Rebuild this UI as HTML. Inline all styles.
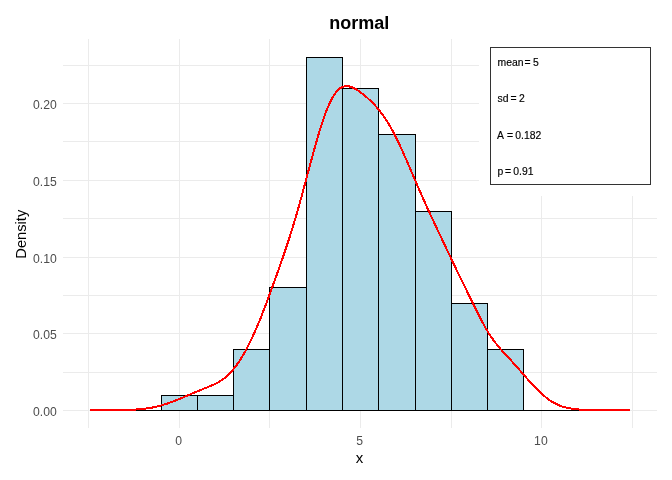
<!DOCTYPE html>
<html><head><meta charset="utf-8"><title>normal</title>
<style>
html,body{margin:0;padding:0;background:#fff;}
svg{display:block;font-family:"Liberation Sans",sans-serif;}
</style></head><body>
<svg width="672" height="480" viewBox="0 0 672 480">
<rect width="672" height="480" fill="#fff"/>
<g fill="#EBEBEB" shape-rendering="crispEdges"><rect x="88" y="39" width="1" height="389"/><rect x="179" y="39" width="1" height="389"/><rect x="269" y="39" width="1" height="389"/><rect x="360" y="39" width="1" height="389"/><rect x="451" y="39" width="1" height="389"/><rect x="541" y="39" width="1" height="389"/><rect x="632" y="39" width="1" height="389"/><rect x="63" y="410" width="594" height="1"/><rect x="63" y="372" width="594" height="1"/><rect x="63" y="333" width="594" height="1"/><rect x="63" y="295" width="594" height="1"/><rect x="63" y="257" width="594" height="1"/><rect x="63" y="218" width="594" height="1"/><rect x="63" y="180" width="594" height="1"/><rect x="63" y="141" width="594" height="1"/><rect x="63" y="103" width="594" height="1"/><rect x="63" y="65" width="594" height="1"/></g>
<g shape-rendering="crispEdges">
<rect x="125" y="410" width="472" height="1" fill="#000"/>
<rect x="161" y="395" width="37" height="16" fill="#000"/><rect x="162" y="396" width="35" height="14" fill="#ADD8E6"/>
<rect x="197" y="395" width="37" height="16" fill="#000"/><rect x="198" y="396" width="35" height="14" fill="#ADD8E6"/>
<rect x="233" y="349" width="37" height="62" fill="#000"/><rect x="234" y="350" width="35" height="60" fill="#ADD8E6"/>
<rect x="269" y="287" width="38" height="124" fill="#000"/><rect x="270" y="288" width="36" height="122" fill="#ADD8E6"/>
<rect x="306" y="57" width="37" height="354" fill="#000"/><rect x="307" y="58" width="35" height="352" fill="#ADD8E6"/>
<rect x="342" y="88" width="37" height="323" fill="#000"/><rect x="343" y="89" width="35" height="321" fill="#ADD8E6"/>
<rect x="378" y="134" width="38" height="277" fill="#000"/><rect x="379" y="135" width="36" height="275" fill="#ADD8E6"/>
<rect x="415" y="211" width="37" height="200" fill="#000"/><rect x="416" y="212" width="35" height="198" fill="#ADD8E6"/>
<rect x="451" y="303" width="37" height="108" fill="#000"/><rect x="452" y="304" width="35" height="106" fill="#ADD8E6"/>
<rect x="487" y="349" width="37" height="62" fill="#000"/><rect x="488" y="350" width="35" height="60" fill="#ADD8E6"/>
</g>
<polyline points="90.0,410.1 92.0,410.1 94.0,410.1 96.0,410.1 98.0,410.1 100.0,410.1 102.0,410.1 104.0,410.1 106.0,410.1 108.0,410.1 110.0,410.1 112.0,410.1 114.0,410.1 116.0,410.0 118.0,410.0 120.0,410.0 122.0,410.0 124.0,409.9 126.0,409.9 128.0,409.8 130.0,409.8 132.0,409.7 134.0,409.6 136.0,409.5 138.0,409.3 140.0,409.2 142.0,409.0 144.0,408.7 146.0,408.5 148.0,408.2 150.0,407.9 152.0,407.6 154.0,407.2 156.0,406.7 158.0,406.3 160.0,405.8 162.0,405.2 164.0,404.6 166.0,404.0 168.0,403.3 170.0,402.6 172.0,401.9 174.0,401.1 176.0,400.3 178.0,399.5 180.0,398.7 182.0,397.8 184.0,397.0 186.0,396.1 188.0,395.3 190.0,394.4 192.0,393.6 194.0,392.7 196.0,391.9 198.0,391.1 200.0,390.2 202.0,389.4 204.0,388.6 206.0,387.8 208.0,387.0 210.0,386.2 212.0,385.3 214.0,384.4 216.0,383.5 218.0,382.4 220.0,381.3 222.0,380.0 224.0,378.5 226.0,376.9 228.0,375.1 230.0,373.1 232.0,370.9 234.0,368.5 236.0,365.9 238.0,363.1 240.0,360.1 242.0,356.9 244.0,353.5 246.0,349.9 248.0,346.1 250.0,342.1 252.0,338.0 254.0,333.6 256.0,329.1 258.0,324.4 260.0,319.6 262.0,314.5 264.0,309.4 266.0,304.1 268.0,298.8 270.0,293.3 272.0,287.8 274.0,282.3 276.0,276.8 278.0,271.2 280.0,265.6 282.0,259.9 284.0,254.1 286.0,248.2 288.0,242.2 290.0,236.0 292.0,229.6 294.0,223.0 296.0,216.3 298.0,209.3 300.0,202.2 302.0,194.9 304.0,187.5 306.0,180.0 308.0,172.5 310.0,165.1 312.0,157.7 314.0,150.4 316.0,143.2 318.0,136.3 320.0,129.7 322.0,123.4 324.0,117.4 326.0,111.9 328.0,106.9 330.0,102.4 332.0,98.4 334.0,95.0 336.0,92.2 338.0,89.9 340.0,88.3 342.0,87.1 344.0,86.4 346.0,86.1 348.0,86.2 350.0,86.6 352.0,87.3 354.0,88.2 356.0,89.3 358.0,90.6 360.0,91.9 362.0,93.4 364.0,95.0 366.0,96.7 368.0,98.5 370.0,100.3 372.0,102.3 374.0,104.3 376.0,106.5 378.0,108.8 380.0,111.3 382.0,113.9 384.0,116.7 386.0,119.6 388.0,122.8 390.0,126.2 392.0,129.7 394.0,133.5 396.0,137.4 398.0,141.5 400.0,145.7 402.0,150.1 404.0,154.6 406.0,159.1 408.0,163.7 410.0,168.3 412.0,173.0 414.0,177.7 416.0,182.3 418.0,186.9 420.0,191.5 422.0,196.1 424.0,200.5 426.0,205.0 428.0,209.4 430.0,213.7 432.0,218.0 434.0,222.3 436.0,226.5 438.0,230.8 440.0,235.0 442.0,239.2 444.0,243.5 446.0,247.7 448.0,252.0 450.0,256.2 452.0,260.4 454.0,264.6 456.0,268.7 458.0,272.9 460.0,277.0 462.0,281.0 464.0,285.1 466.0,289.2 468.0,293.3 470.0,297.4 472.0,301.5 474.0,305.6 476.0,309.6 478.0,313.7 480.0,317.6 482.0,321.4 484.0,325.1 486.0,328.7 488.0,332.0 490.0,335.2 492.0,338.1 494.0,340.9 496.0,343.5 498.0,346.0 500.0,348.4 502.0,350.6 504.0,352.8 506.0,355.0 508.0,357.2 510.0,359.3 512.0,361.5 514.0,363.7 516.0,365.9 518.0,368.2 520.0,370.5 522.0,372.8 524.0,375.1 526.0,377.3 528.0,379.6 530.0,381.8 532.0,384.0 534.0,386.2 536.0,388.3 538.0,390.3 540.0,392.2 542.0,394.0 544.0,395.8 546.0,397.4 548.0,399.0 550.0,400.4 552.0,401.7 554.0,402.8 556.0,403.9 558.0,404.8 560.0,405.7 562.0,406.4 564.0,407.0 566.0,407.6 568.0,408.0 570.0,408.4 572.0,408.7 574.0,409.0 576.0,409.2 578.0,409.4 580.0,409.6 582.0,409.7 584.0,409.8 586.0,409.8 588.0,409.9 590.0,410.0 592.0,410.0 594.0,410.0 596.0,410.0 598.0,410.0 600.0,410.1 602.0,410.1 604.0,410.1 606.0,410.1 608.0,410.1 610.0,410.1 612.0,410.1 614.0,410.1 616.0,410.1 618.0,410.1 620.0,410.1 622.0,410.1 624.0,410.1 626.0,410.1 628.0,410.1 630.0,410.1" fill="none" stroke="#FF0000" stroke-width="2" stroke-linejoin="round" shape-rendering="crispEdges"/>
<rect x="479" y="36" width="181" height="160" fill="#fff"/>
<rect x="490.5" y="47.5" width="160" height="137" fill="#fff" stroke="#333" stroke-width="1" shape-rendering="crispEdges"/>
<g font-size="10.4px" fill="#000" stroke="#000" stroke-width="0.15">
<text y="65.8"><tspan x="497.5">mean</tspan><tspan x="524.6">=</tspan><tspan x="533">5</tspan></text>
<text y="101.8"><tspan x="497.5">sd</tspan><tspan x="510.6">=</tspan><tspan x="519">2</tspan></text>
<text y="138.6"><tspan x="497">A</tspan><tspan x="507">=</tspan><tspan x="515.3">0.182</tspan></text>
<text y="174.8"><tspan x="497.5">p</tspan><tspan x="504.9">=</tspan><tspan x="513.3">0.91</tspan></text>
</g>
<g font-size="12.2px" fill="#4D4D4D"><text x="56.8" y="415.7" text-anchor="end">0.00</text><text x="56.8" y="338.7" text-anchor="end">0.05</text><text x="56.8" y="262.7" text-anchor="end">0.10</text><text x="56.8" y="185.7" text-anchor="end">0.15</text><text x="56.8" y="108.7" text-anchor="end">0.20</text><text x="178.7" y="445" text-anchor="middle">0</text><text x="359.7" y="445" text-anchor="middle">5</text><text x="540.9" y="445" text-anchor="middle">10</text></g>
<text x="359.6" y="463" font-size="15px" text-anchor="middle" fill="#000">x</text>
<text transform="translate(26.2,234.2) rotate(-90)" font-size="14.67px" text-anchor="middle" fill="#000">Density</text>
<text x="359.3" y="28.6" font-size="18px" font-weight="bold" text-anchor="middle" fill="#000">normal</text>
</svg>
</body></html>
